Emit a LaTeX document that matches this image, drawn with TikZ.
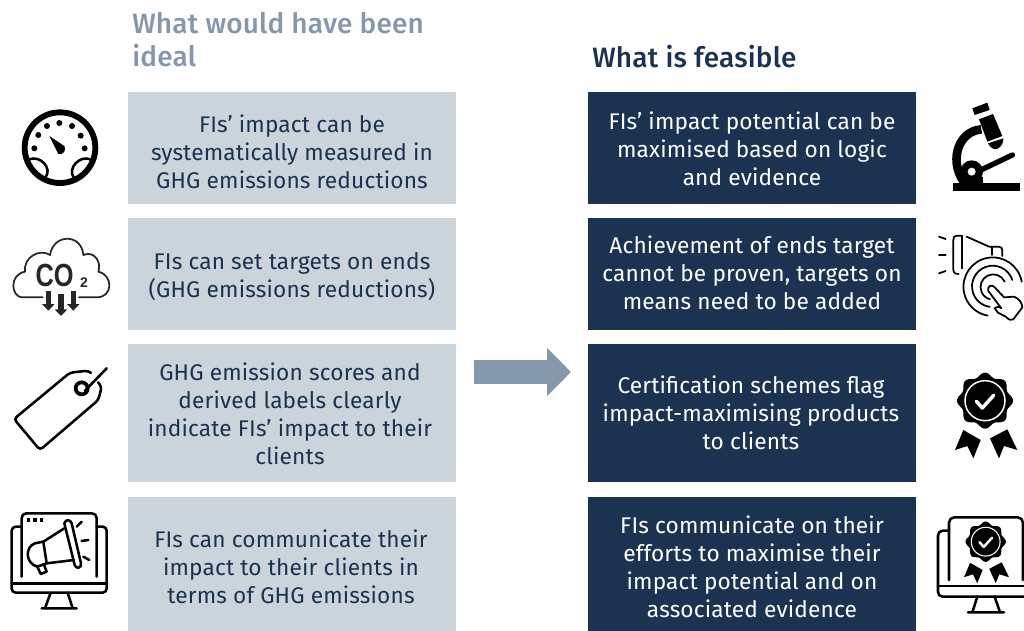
\documentclass[tikz,border=0pt]{standalone}
\usepackage{fontspec}
\setmainfont[LetterSpace=0.7]{Fira Sans}
\newfontfamily\iconfont{Liberation Sans}
\newfontfamily\titlefont[LetterSpace=0.7]{Fira Sans Medium}
\usetikzlibrary{arrows.meta}
\definecolor{lightbox}{HTML}{CBD3DB}
\definecolor{darkbox}{HTML}{1B3350}
\definecolor{titlegrey}{HTML}{8497AB}
\definecolor{bodytext}{HTML}{1B3350}
\tikzset{
  greybox/.style={fill=lightbox,draw=none,minimum width=246pt,inner sep=0pt,anchor=north west},
  navybox/.style={fill=darkbox,draw=none,minimum width=246pt,inner sep=0pt,anchor=north west},
  greytext/.style={text=bodytext,align=center,inner sep=0pt,font=\fontsize{17}{21}\selectfont},
  navytext/.style={text=white,align=center,inner sep=0pt,font=\fontsize{17}{21}\selectfont},
  headline/.style={anchor=west,inner sep=0pt,align=left,font=\titlefont\fontsize{21}{24.7}\selectfont},
  icon/.style={line width=1.9pt,line cap=round,line join=round,draw=black},
  thin icon/.style={line width=1.3pt,line cap=round,line join=round,draw=black},
}
\newcommand{\rosette}[3]{%
  \begin{scope}[shift={(#1,#2)},x=#3*0.25pt,y=-#3*0.25pt]
    \fill[black] plot[domain=0:360,samples=145,smooth] ({(78+6*cos(8*\x))*cos(\x)},{(78+6*cos(8*\x))*sin(\x)}) -- cycle;
    \draw[white,line width=#3*1.1pt] (0,0) circle (60);
    \draw[white,line width=#3*2.6pt,line cap=round,line join=round] (-26,2) -- (-8,22) -- (26,-16);
    \fill[black] (-65,88) -- (-13,118) -- (-35,173) -- (-53,136) -- (-90,148) -- cycle;
    \fill[black] (67,86) -- (15,113) -- (42,173) -- (57,136) -- (97,148) -- cycle;
  \end{scope}}
\begin{document}
\begin{tikzpicture}[x=0.75pt,y=-0.75pt]
\useasboundingbox (0,0) rectangle (1024,631);
% boxes
\node[greybox,minimum height=84pt] (L1) at (128,92) {};
\node[greybox,minimum height=84pt] (L2) at (128,218) {};
\node[greybox,minimum height=103.5pt] (L3) at (128,344) {};
\node[greybox,minimum height=100.5pt] (L4) at (128,497) {};
\node[navybox,minimum height=84pt] (R1) at (588,92) {};
\node[navybox,minimum height=84pt] (R2) at (588,218) {};
\node[navybox,minimum height=103.5pt] (R3) at (588,344) {};
\node[navybox,minimum height=100.5pt] (R4) at (588,497) {};
% titles
\node[headline,text=titlegrey] (T1) at (132,40) {What would have been\\ideal};
\node[headline,text=darkbox] (T2) at (592,57) {What is feasible};
% texts
\node[greytext] (LT1) at (292,152) {FIs’ impact can be\\systematically measured in\\GHG emissions reductions};
\node[greytext] (LT2) at (292,277) {FIs can set targets on ends\\(GHG emissions reductions)};
\node[greytext] (LT3) at (290,414) {GHG emission scores and\\derived labels clearly\\indicate FIs’ impact to their\\clients};
\node[greytext] (LT4) at (291,567) {FIs can communicate their\\impact to their clients in\\terms of GHG emissions};
\node[navytext] (RT1) at (752,149) {FIs’ impact potential can be\\maximised based on logic\\and evidence};
\node[navytext] (RT2) at (752,273) {Achievement of ends target\\cannot be proven, targets on\\means need to be added};
\node[navytext] (RT3) at (751,413) {Certification schemes flag\\impact-maximising products\\to clients};
\node[navytext] (RT4) at (752,567) {FIs communicate on their\\efforts to maximise their\\impact potential and on\\associated evidence};
% arrow
\coordinate (AS) at (474,372);
\coordinate (AE) at (571,372);
\draw[titlegrey,line width=18pt,-{Triangle[length=18pt,width=35.25pt]}] (AS) -- (AE);
% gauge
\begin{scope}[shift={(0,90)},x=0.25pt,y=-0.25pt]
  \draw[black,line width=4.4pt] (180,173) circle (106);
  \foreach \p in {(103,175),(115,135),(141,108),(178,99),(216,108),(242,137),(254,175)} \fill[black] \p circle (9);
  \fill[black] (148,138) -- (193,168) .. controls (200,180) and (190,196) .. (175,192) -- cycle;
  \draw[icon] (88,208) .. controls (120,195) and (160,235) .. (135,264);
  \draw[icon] (270,208) .. controls (240,195) and (200,235) .. (222,264);
\end{scope}
% CO2
\begin{scope}[shift={(0,90)},x=0.25pt,y=-0.25pt]
  \draw[thin icon,draw=black!85] (128,622) -- (65,622) .. controls (35,620) and (25,555) .. (75,545) .. controls (70,500) and (120,475) .. (150,495) .. controls (160,430) and (245,430) .. (250,495) .. controls (285,480) and (305,520) .. (295,545) .. controls (340,555) and (340,622) .. (290,622) -- (237,622);
  \node[inner sep=0pt,text=black!85,xscale=0.95,yscale=1.2] (COtext) at (164,556) {\iconfont\bfseries\fontsize{20}{22}\selectfont CO};
  \node[inner sep=0pt,text=black!85] (COsub) at (252,578) {\iconfont\bfseries\fontsize{10.5}{12}\selectfont 2};
  \foreach \cx/\ty/\by in {145/603/662, 183/612/678, 220/603/662}{
    \fill[black!85] (\cx-8,\ty) rectangle (\cx+8,\by-14);
    \fill[black!85] (\cx-19,\by-20) -- (\cx+19,\by-20) -- (\cx,\by) -- cycle;
  }
\end{scope}
% tag
\begin{scope}[shift={(0,350)},x=0.25pt,y=-0.25pt]
  \draw[icon,rounded corners=2.5pt] (272,68) -- (265,62) -- (210,68) -- (42,207) -- (120,300) -- (295,150) -- (305,110) -- (294,97);
  \draw[black,line width=2.8pt] (245,115) circle (18);
  \draw[icon] (255,122) -- (320,55);
\end{scope}
% megaphone monitor
\begin{scope}[shift={(0,350)},x=0.25pt,y=-0.25pt]
  \draw[icon,rounded corners=3.5pt] (65,680) -- (65,490) -- (290,490) -- (290,680);
  \draw[icon,rounded corners=3pt] (65,530) -- (35,530) -- (35,728) -- (320,728) -- (320,530) -- (290,530);
  \draw[icon] (35,700) -- (320,700);
  \draw[icon] (152,728) -- (135,775) (203,728) -- (218,775) (125,775) -- (230,775);
  \foreach \px in {85,105,125} \fill[black] (\px-5,505) rectangle (\px+5,515);
  \draw[icon] (193,520) .. controls (198,505) and (212,510) .. (215,520) -- (243,640) .. controls (245,655) and (228,658) .. (224,645) -- cycle;
  \draw[icon] (193,535) -- (130,575) -- (140,640) -- (222,630);
  \draw[icon] (130,575) -- (105,580) .. controls (75,590) and (75,640) .. (112,650) -- (140,640);
  \draw[icon] (112,650) -- (122,672) -- (140,665) -- (131,642);
  \draw[icon] (230,530) -- (245,515) (245,573) -- (265,570) (250,620) -- (268,630);
\end{scope}
% microscope
\begin{scope}[shift={(924,90)},x=0.25pt,y=-0.25pt]
  \fill[black] (88,280) rectangle (288,302);
  \fill[black] (145,55) -- (190,38) -- (197,60) -- (152,75) -- cycle;
  \fill[black] (165,88) -- (207,72) -- (235,138) -- (190,155) -- cycle;
  \fill[black] (192,160) -- (238,145) .. controls (240,170) and (210,195) .. (192,160) -- cycle;
  \draw[black,line width=6.5pt] (172,118) .. controls (95,125) and (75,225) .. (125,282);
  \draw[black,line width=4pt,line cap=round] (150,250) -- (265,195);
  \fill[black] (143,245) circle (34);
  \fill[black] (108,282) rectangle (178,262);
  \fill[white] (143,245) circle (12);
\end{scope}
% click icon
\begin{scope}[shift={(924,90)},x=0.25pt,y=-0.25pt]
  \draw[thin icon] (45,440) -- (65,447) (45,495) -- (65,495) (45,550) -- (65,543);
  \draw[thin icon] (112,437) -- (98,437) .. controls (90,437) and (88,442) .. (88,450) -- (88,538) .. controls (88,548) and (93,552) .. (104,552);
  \draw[thin icon] (113,437) -- (113,535);
  \draw[thin icon] (128,440) -- (195,470) -- (225,470) .. controls (232,470) and (235,475) .. (235,482) -- (235,498);
  \draw[thin icon] (205,470) -- (205,495);
  \draw[thin icon] (293,575) arc[start angle=-10,end angle=-260,radius=88];
  \draw[thin icon] (265,570) arc[start angle=-18,end angle=-262,radius=62];
  \draw[thin icon] (242,575) arc[start angle=-25,end angle=-255,radius=38];
  \draw[thin icon,fill=white] (193,603) .. controls (188,590) and (203,580) .. (212,592) -- (240,622) -- (270,620) .. controls (285,625) and (295,640) .. (295,652) -- (268,688) .. controls (262,692) and (255,690) .. (245,680) -- (222,668) -- (212,655) .. controls (215,650) and (225,648) .. (232,655) -- cycle;
\end{scope}
% rosette
\begin{scope}[shift={(924,360)},x=0.25pt,y=-0.25pt]
  \rosette{183}{122}{1}
\end{scope}
% certificate monitor
\begin{scope}
\clip (0,0) rectangle (1024,631);
\begin{scope}[shift={(924,360)},x=0.25pt,y=-0.25pt]
  \draw[icon,rounded corners=4pt] (75,660) -- (75,472) -- (297,472) -- (297,660);
  \draw[icon,rounded corners=3.5pt] (75,512) -- (42,512) -- (42,710) -- (330,710);
  \draw[icon] (42,678) -- (310,678);
  \draw[icon] (160,710) -- (145,757) (212,710) -- (228,757) (132,757) -- (240,757);
  \rosette{185}{545}{0.72}
\end{scope}
\end{scope}
\end{tikzpicture}
\end{document}
